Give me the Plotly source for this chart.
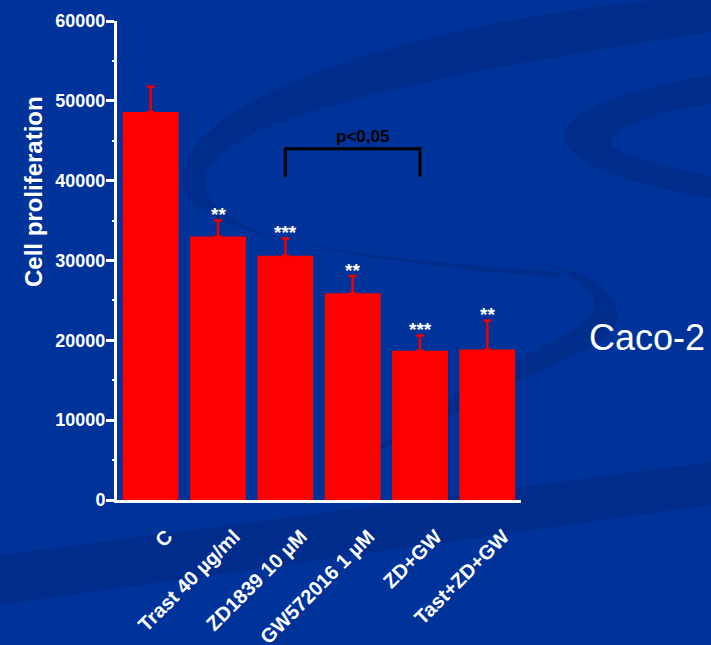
import plotly.graph_objects as go

# ---- data -------------------------------------------------------------
categories = ["C", "Trast 40 µg/ml", "ZD1839 10 µM", "GW572016 1 µM", "ZD+GW", "Tast+ZD+GW"]
means = [48600, 33000, 30600, 25900, 18700, 18850]
sem = [3200, 2000, 2150, 2150, 1900, 3650]
stars = ["", "**", "***", "**", "***", "**"]

y_ticks = [0, 10000, 20000, 30000, 40000, 50000, 60000]

# significance bracket between ZD1839 and ZD+GW
bracket_from, bracket_to = 2, 4
bracket_top, bracket_foot = 44000, 40500
bracket_label = "p<0,05"

# ---- styling ----------------------------------------------------------
BG = "#003399"
SHADE = "rgba(0,18,85,0.18)"
WHITE = "#ffffff"
RED = "#ff0000"
SANS = "Liberation Sans, Arial, sans-serif"

W, H = 711, 645
L, R, T, B = 117, 521, 21, 500          # plot-area edges in pixels


def to_paper(x, y):
    return (x - L) / (R - L), (B - y) / (B - T)


def svg_path(segments):
    """Build an SVG path in paper units from pixel-space segments."""
    out = []
    for cmd, pts in segments:
        coords = " ".join("%.4f,%.4f" % to_paper(px, py) for px, py in pts)
        out.append(cmd + " " + coords if pts else cmd)
    return " ".join(out)


# decorative swooshes of the slide background
swooshes = [
    # long arc sweeping in from the upper right and around the chart
    [("M", [(711, -5)]),
     ("C", [(430, 15), (160, 100), (184, 190)]),
     ("C", [(205, 245), (420, 262), (560, 272)]),
     ("L", [(560, 278)]),
     ("C", [(420, 266), (212, 248), (205, 185)]),
     ("C", [(200, 120), (430, 75), (711, 32)]),
     ("Z", [])],
    # lower tail of the arc
    [("M", [(540, 262)]),
     ("C", [(625, 280), (640, 325), (585, 350)]),
     ("C", [(520, 380), (440, 420), (370, 455)]),
     ("C", [(420, 410), (500, 370), (570, 332)]),
     ("C", [(610, 310), (600, 285), (540, 262)]),
     ("Z", [])],
    # small crescent on the right
    [("M", [(711, 75)]),
     ("C", [(610, 92), (550, 120), (566, 145)]),
     ("C", [(585, 172), (650, 188), (711, 198)]),
     ("L", [(711, 176)]),
     ("C", [(650, 165), (602, 150), (612, 138)]),
     ("C", [(625, 122), (670, 110), (711, 104)]),
     ("Z", [])],
    # diagonal band near the bottom
    [("M", [(0, 555)]),
     ("L", [(711, 462)]),
     ("L", [(711, 505)]),
     ("L", [(0, 605)]),
     ("Z", [])],
]

fig = go.Figure()

fig.add_trace(go.Bar(
    x=list(range(len(categories))),
    y=means,
    marker=dict(color=RED, line=dict(width=0)),
    error_y=dict(type="data", array=sem, arrayminus=[0] * len(sem),
                 symmetric=False, color="#ee0000", thickness=2.5, width=4),
    showlegend=False,
    hoverinfo="skip",
))

# bracket
fig.add_trace(go.Scatter(
    x=[bracket_from, bracket_from, bracket_to, bracket_to],
    y=[bracket_foot, bracket_top, bracket_top, bracket_foot],
    mode="lines",
    line=dict(color="#000000", width=3),
    showlegend=False,
    hoverinfo="skip",
))

annotations = []
for i, s in enumerate(stars):
    if not s:
        continue
    annotations.append(dict(
        x=i, y=means[i] + sem[i], xref="x", yref="y",
        text=s, showarrow=False, yanchor="middle", yshift=6,
        font=dict(family=SANS, size=19, color=WHITE, weight="bold"),
    ))

annotations.append(dict(
    x=(bracket_from + bracket_to) / 2 + 0.15, y=bracket_top, xref="x", yref="y",
    text=bracket_label, showarrow=False, yanchor="bottom", yshift=1,
    font=dict(family=SANS, size=17, color="#000000", weight="bold"),
))

annotations.append(dict(
    x=to_paper(33, 0)[0], y=to_paper(0, 192)[1], xref="paper", yref="paper",
    text="Cell proliferation", textangle=-90, showarrow=False,
    xanchor="center", yanchor="middle",
    font=dict(family=SANS, size=24, color=WHITE, weight="bold"),
))

annotations.append(dict(
    x=to_paper(647, 0)[0], y=to_paper(0, 337)[1], xref="paper", yref="paper",
    text="Caco-2", showarrow=False, xanchor="center", yanchor="middle",
    font=dict(family=SANS, size=36, color=WHITE),
))

shapes = [dict(type="path", path=svg_path(p), xref="paper", yref="paper",
               fillcolor=SHADE, line=dict(width=0), layer="below")
          for p in swooshes]

fig.update_layout(
    width=W, height=H,
    margin=dict(l=L, r=W - R, t=T, b=H - B, pad=0, autoexpand=False),
    paper_bgcolor=BG,
    plot_bgcolor="rgba(0,0,0,0)",
    bargap=0.17,
    shapes=shapes,
    annotations=annotations,
    xaxis=dict(
        range=[-0.5, len(categories) - 0.5],
        tickmode="array",
        tickvals=list(range(len(categories))),
        ticktext=categories,
        tickangle=-45,
        ticks="",
        ticklabelshift=16,
        ticklabelstandoff=14,
        tickfont=dict(family=SANS, size=20, color=WHITE, weight="bold"),
        showline=True, linecolor=WHITE, linewidth=3,
        showgrid=False, zeroline=False, fixedrange=True, automargin=False,
    ),
    yaxis=dict(
        range=[0, 60000],
        tickmode="array",
        tickvals=y_ticks,
        ticktext=[str(v) for v in y_ticks],
        ticks="outside", ticklen=8, tickwidth=3, tickcolor=WHITE,
        ticklabelstandoff=-3,
        minor=dict(tickmode="linear", tick0=5000, dtick=10000, ticks="outside",
                   ticklen=2, tickwidth=2, tickcolor=WHITE),
        tickfont=dict(family=SANS, size=18, color=WHITE, weight="bold"),
        showline=True, linecolor=WHITE, linewidth=3,
        showgrid=False, zeroline=False, fixedrange=True, automargin=False,
    ),
)

fig.write_html("out.html")
